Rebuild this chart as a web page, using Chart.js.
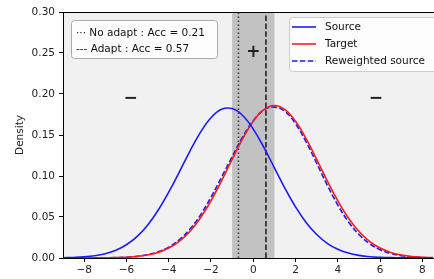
<!DOCTYPE html>
<html>
<head>
<title>Density</title>
<script src="https://cdn.jsdelivr.net/npm/chart.js"></script>
<style>
body { margin: 0; background: #fff; }
#wrap { width: 434px; height: 279px; }
</style>
</head>
<body>
<div id="wrap"><canvas id="densityChart" width="434" height="279"></canvas></div>
<script>
// x grid the curves were read on
var xs = [-9, -8.5, -8, -7.5, -7, -6.5, -6, -5.5, -5, -4.5, -4, -3.5, -3, -2.5, -2, -1.5, -1, -0.5,
          0, 0.5, 1, 1.5, 2, 2.5, 3, 3.5, 4, 4.5, 5, 5.5, 6, 6.5, 7, 7.5, 8, 8.5];
var source = [0.0003, 0.0007, 0.0014, 0.0028, 0.0053, 0.0095, 0.0162, 0.0261, 0.0400, 0.0582, 0.0802, 0.1048,
              0.1301, 0.1532, 0.1711, 0.1813, 0.1822, 0.1738, 0.1572, 0.1350, 0.1100, 0.0850, 0.0623, 0.0433,
              0.0286, 0.0179, 0.0106, 0.0060, 0.0032, 0.0016, 0.0008, 0.0004, 0.0002, 0.0001, 0.0000, 0.0000];
var target = [0.0000, 0.0000, 0.0000, 0.0001, 0.0002, 0.0004, 0.0009, 0.0018, 0.0037, 0.0068, 0.0121, 0.0204,
              0.0324, 0.0488, 0.0696, 0.0940, 0.1202, 0.1455, 0.1668, 0.1810, 0.1860, 0.1810, 0.1668, 0.1455,
              0.1202, 0.0940, 0.0696, 0.0488, 0.0324, 0.0204, 0.0121, 0.0068, 0.0037, 0.0018, 0.0009, 0.0004];
var reweighted = [0.0000, 0.0000, 0.0000, 0.0001, 0.0002, 0.0005, 0.0010, 0.0020, 0.0041, 0.0075, 0.0133, 0.0222,
                  0.0350, 0.0523, 0.0740, 0.0985, 0.1234, 0.1477, 0.1675, 0.1805, 0.1840, 0.1787, 0.1638, 0.1416,
                  0.1156, 0.0889, 0.0646, 0.0443, 0.0286, 0.0175, 0.0101, 0.0055, 0.0028, 0.0014, 0.0006, 0.0002];
var seriesNames = ['Source', 'Target', 'Reweighted source'];
var xTicks = [-8, -6, -4, -2, 0, 2, 4, 6, 8];
var yTicks = [0, 0.05, 0.10, 0.15, 0.20, 0.25, 0.30];
var band = [-1, 1];
var noAdaptX = -0.7;
var adaptX = 0.6;
var accLabels = ['\u00b7\u00b7\u00b7 No adapt : Acc = 0.21', '--- Adapt : Acc = 0.57'];
var signs = [{ t: '+', x: 0, y: 0.25 }, { t: '\u2212', x: -5.8, y: 0.195 }, { t: '\u2212', x: 5.8, y: 0.195 }];

var font = '"DejaVu Sans", sans-serif';

function pts(arr) {
    return xs.map(function (x, i) { return { x: x, y: arr[i] }; });
}

var decor = {
    id: 'decor',
    beforeDraw: function (chart) {
        var ctx = chart.ctx, a = chart.chartArea, sx = chart.scales.x;
        ctx.save();
        ctx.fillStyle = '#f1f1f1';
        ctx.fillRect(a.left, a.top, a.right - a.left, a.bottom - a.top);
        var b0 = sx.getPixelForValue(band[0]), b1 = sx.getPixelForValue(band[1]);
        ctx.fillStyle = '#c2c2c2';
        ctx.fillRect(b0, a.top, b1 - b0, a.bottom - a.top);
        ctx.restore();
    },
    afterDraw: function (chart) {
        var ctx = chart.ctx, a = chart.chartArea, sx = chart.scales.x, sy = chart.scales.y;
        ctx.save();
        // spines
        ctx.strokeStyle = '#000';
        ctx.lineWidth = 1;
        ctx.strokeRect(a.left + 0.5, a.top + 0.5, a.right - a.left, a.bottom - a.top);

        // + / - marks
        ctx.fillStyle = '#222';
        ctx.font = 'bold 17px ' + font;
        ctx.textAlign = 'center';
        ctx.textBaseline = 'middle';
        signs.forEach(function (s) {
            ctx.fillText(s.t, sx.getPixelForValue(s.x), sy.getPixelForValue(s.y));
        });

        // accuracy box
        ctx.beginPath();
        ctx.roundRect(71.5, 20.5, 146, 38, 3);
        ctx.fillStyle = 'rgba(255,255,255,0.85)';
        ctx.fill();
        ctx.strokeStyle = '#aaa';
        ctx.stroke();
        ctx.fillStyle = '#111';
        ctx.font = '10.5px ' + font;
        ctx.textAlign = 'left';
        ctx.fillText(accLabels[0], 76, 33);
        ctx.fillText(accLabels[1], 76, 49);

        // series legend
        ctx.beginPath();
        ctx.roundRect(289.5, 17.5, 160, 54, 3);
        ctx.fillStyle = 'rgba(255,255,255,0.85)';
        ctx.fill();
        ctx.strokeStyle = '#ccc';
        ctx.stroke();
        var rows = [27, 44, 61];
        chart.data.datasets.slice(0, 3).forEach(function (ds, i) {
            ctx.beginPath();
            ctx.setLineDash(ds.borderDash || []);
            ctx.strokeStyle = ds.borderColor;
            ctx.lineWidth = 1.6;
            ctx.moveTo(292, rows[i]);
            ctx.lineTo(316, rows[i]);
            ctx.stroke();
            ctx.setLineDash([]);
            ctx.fillStyle = '#111';
            ctx.fillText(seriesNames[i], 325, rows[i]);
        });
        ctx.restore();
    }
};

new Chart(document.getElementById('densityChart'), {
    type: 'line',
    data: {
        datasets: [
            { data: pts(source), borderColor: '#1a1aff', borderWidth: 1.6, pointRadius: 0, tension: 0.4 },
            { data: pts(target), borderColor: '#ff1a1a', borderWidth: 1.6, pointRadius: 0, tension: 0.4 },
            { data: pts(reweighted), borderColor: '#1a1aff', borderWidth: 1.6, borderDash: [5.5, 2.4], pointRadius: 0, tension: 0.4 },
            { data: [{ x: noAdaptX, y: 0 }, { x: noAdaptX, y: 0.3 }], borderColor: '#333', borderWidth: 1.5, borderDash: [1.5, 2.5], pointRadius: 0 },
            { data: [{ x: adaptX, y: 0 }, { x: adaptX, y: 0.3 }], borderColor: '#222', borderWidth: 1.6, borderDash: [5.5, 2.4], pointRadius: 0 }
        ]
    },
    options: {
        responsive: false,
        animation: false,
        layout: { padding: { top: 12, left: 0, right: 0, bottom: 0 } },
        plugins: { legend: { display: false }, tooltip: { enabled: false } },
        scales: {
            x: {
                type: 'linear', min: -9, max: 8.55,
                afterBuildTicks: function (s) { s.ticks = xTicks.map(function (v) { return { value: v }; }); },
                afterFit: function (s) { s.height = 21; },
                ticks: {
                    color: '#222', font: { family: font, size: 10.5 }, padding: 2, maxRotation: 0,
                    callback: function (v) { return v < 0 ? '\u2212' + Math.abs(v) : String(v); }
                },
                grid: { drawOnChartArea: false, drawTicks: true, tickLength: 4, color: '#000' },
                border: { display: true, color: '#000' }
            },
            y: {
                min: 0, max: 0.3,
                afterBuildTicks: function (s) { s.ticks = yTicks.map(function (v) { return { value: v }; }); },
                afterFit: function (s) { s.width = 63; },
                ticks: {
                    color: '#222', font: { family: font, size: 10.5 }, padding: 4,
                    callback: function (v) { return v.toFixed(2); }
                },
                title: { display: true, text: 'Density', color: '#222', font: { family: font, size: 10.5 }, padding: { top: 14, bottom: 0 } },
                grid: { drawOnChartArea: false, drawTicks: true, tickLength: 4, color: '#000' },
                border: { display: true, color: '#000' }
            }
        }
    },
    plugins: [decor]
});
</script>
</body>
</html>
